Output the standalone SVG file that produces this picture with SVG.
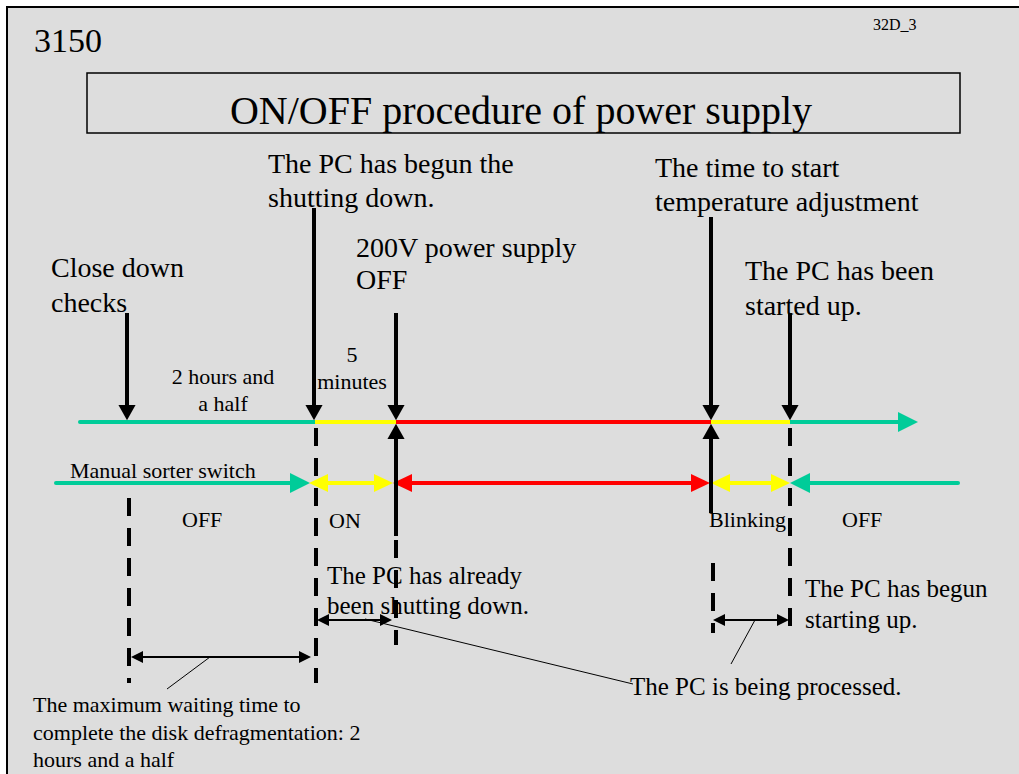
<svg xmlns="http://www.w3.org/2000/svg" width="1019" height="774" viewBox="0 0 1019 774">
<style>
text{font-family:"Liberation Serif","Times New Roman",serif;fill:#000}
.t28{font-size:28px}.t25{font-size:25px}.t22{font-size:22px}
.tl{stroke-width:4;fill:none}
.g{stroke:#00CC99}.y{stroke:#FFFF00}.r{stroke:#FF0000}
.v{stroke:#000;stroke-width:4;fill:none}
.d{stroke:#000;stroke-width:4;fill:none;stroke-dasharray:18 12}
.dim{stroke:#000;stroke-width:2;fill:none}
.ld{stroke:#000;stroke-width:1;fill:none}
</style>
<defs>
<marker id="ag" markerUnits="userSpaceOnUse" viewBox="0 0 20 20" markerWidth="20" markerHeight="20" refX="0" refY="10" orient="auto-start-reverse"><path d="M0,0L20,10L0,20z" fill="#00CC99"/></marker>
<marker id="ay" markerUnits="userSpaceOnUse" viewBox="0 0 20 20" markerWidth="20" markerHeight="20" refX="0" refY="10" orient="auto-start-reverse"><path d="M0,1L19,10L0,19z" fill="#FFFF00"/></marker>
<marker id="ar" markerUnits="userSpaceOnUse" viewBox="0 0 20 20" markerWidth="20" markerHeight="20" refX="0" refY="10" orient="auto-start-reverse"><path d="M0,1L19,10L0,19z" fill="#FF0000"/></marker>
<marker id="ab" markerUnits="userSpaceOnUse" viewBox="0 0 20 20" markerWidth="18" markerHeight="20" refX="0" refY="10" orient="auto-start-reverse"><path d="M0,0.5L17,10L0,19.5z" fill="#000"/></marker>
<marker id="ad" markerUnits="userSpaceOnUse" viewBox="0 0 12 12" markerWidth="12" markerHeight="12" refX="0" refY="6" orient="auto-start-reverse"><path d="M0,0L12,6L0,12z" fill="#000"/></marker>
</defs>
<rect x="0" y="0" width="1019" height="774" fill="#fff"/>
<rect x="7" y="7" width="1030" height="800" fill="#DDDDDD" stroke="#000" stroke-width="2"/>

<g id="header">
<text x="34" y="52" style="font-size:34px">3150</text>
<text x="873" y="30" style="font-size:16px">32D_3</text>
</g>
<g id="title">
<rect x="87" y="73" width="873" height="60" fill="none" stroke="#000" stroke-width="1.5"/>
<text x="521" y="124" text-anchor="middle" style="font-size:40px">ON/OFF procedure of power supply</text>
</g>

<g id="connectors">
<!-- top timeline -->
<line class="tl g" x1="80" y1="422" x2="315" y2="422" stroke-linecap="round"/>
<line class="tl y" x1="315" y1="422" x2="396" y2="422"/>
<line class="tl r" x1="396" y1="422" x2="711" y2="422"/>
<line class="tl y" x1="711" y1="422" x2="790" y2="422"/>
<line class="tl g" x1="790" y1="422" x2="898" y2="422" marker-end="url(#ag)"/>
<!-- switch timeline -->
<line class="tl g" x1="56" y1="483" x2="290" y2="483" stroke-linecap="round" marker-end="url(#ag)"/>
<line class="tl y" x1="328" y1="483" x2="374" y2="483" marker-start="url(#ay)" marker-end="url(#ay)"/>
<line class="tl r" x1="412" y1="483" x2="691" y2="483" marker-start="url(#ar)" marker-end="url(#ar)"/>
<line class="tl y" x1="730" y1="483" x2="771" y2="483" marker-start="url(#ay)" marker-end="url(#ay)"/>
<line class="tl g" x1="958" y1="483" x2="810" y2="483" stroke-linecap="round" marker-end="url(#ag)"/>
<!-- event arrows down -->
<line class="v" x1="127" y1="313" x2="127" y2="405" marker-end="url(#ab)"/>
<line class="v" x1="314" y1="208" x2="314" y2="405" marker-end="url(#ab)"/>
<line class="v" x1="396" y1="313" x2="396" y2="405" marker-end="url(#ab)"/>
<line class="v" x1="711" y1="217" x2="711" y2="405" marker-end="url(#ab)"/>
<line class="v" x1="790" y1="313" x2="790" y2="405" marker-end="url(#ab)"/>
<!-- event arrows up -->
<line class="v" x1="396" y1="536" x2="396" y2="439" marker-end="url(#ab)"/>
<line class="v" x1="711" y1="513" x2="711" y2="439" marker-end="url(#ab)"/>
<!-- dashed guides -->
<line class="d" x1="129" y1="498" x2="129" y2="683"/>
<line class="d" x1="316" y1="428" x2="316" y2="683"/>
<line class="d" x1="396" y1="540" x2="396" y2="645"/>
<line class="d" x1="713" y1="563" x2="713" y2="633"/>
<line class="d" x1="790" y1="428" x2="790" y2="635"/>
<!-- dimension arrows -->
<line class="dim" x1="143" y1="657" x2="299" y2="657" marker-start="url(#ad)" marker-end="url(#ad)"/>
<line class="dim" x1="329" y1="620" x2="380" y2="620" marker-start="url(#ad)" marker-end="url(#ad)"/>
<line class="dim" x1="725" y1="620" x2="777" y2="620" marker-start="url(#ad)" marker-end="url(#ad)"/>
<!-- leaders -->
<line class="ld" x1="210" y1="657" x2="167" y2="689"/>
<line class="ld" x1="365" y1="619" x2="633" y2="684"/>
<line class="ld" x1="755" y1="620" x2="731" y2="664"/>
</g>

<g id="close-down">
<text class="t28" x="51" y="277">Close down</text>
<text class="t28" x="51" y="312">checks</text>
</g>
<g id="pc-begun-shutdown">
<text class="t28" x="268" y="173">The PC has begun the</text>
<text class="t28" x="268" y="207">shutting down.</text>
</g>
<g id="power-off">
<text class="t28" x="356" y="257">200V power supply</text>
<text class="t28" x="356" y="289">OFF</text>
</g>
<g id="temp-adjust">
<text class="t28" x="655" y="177">The time to start</text>
<text class="t28" x="655" y="211">temperature adjustment</text>
</g>
<g id="pc-started">
<text class="t28" x="745" y="280">The PC has been</text>
<text class="t28" x="745" y="315">started up.</text>
</g>
<g id="two-hours">
<text class="t22" x="223" y="384" text-anchor="middle">2 hours and</text>
<text class="t22" x="223" y="411" text-anchor="middle">a half</text>
</g>
<g id="five-min">
<text class="t22" x="352" y="362" text-anchor="middle">5</text>
<text class="t22" x="352" y="389" text-anchor="middle">minutes</text>
</g>
<g id="switch-states">
<text class="t22" x="70" y="478">Manual sorter switch</text>
<text class="t22" x="182" y="527">OFF</text>
<text class="t22" x="329" y="528">ON</text>
<text class="t22" x="709" y="527">Blinking</text>
<text class="t22" x="842" y="527">OFF</text>
</g>
<g id="pc-already-shutdown">
<text class="t25" x="327" y="584">The PC has already</text>
<text class="t25" x="327" y="614">been shutting down.</text>
</g>
<g id="pc-begun-startup">
<text class="t25" x="805" y="597">The PC has begun</text>
<text class="t25" x="805" y="628">starting up.</text>
</g>
<g id="pc-processed">
<text class="t25" x="630" y="695">The PC is being processed.</text>
</g>
<g id="max-wait">
<text class="t22" x="33" y="712">The maximum waiting time to</text>
<text class="t22" x="33" y="740">complete the disk defragmentation: 2</text>
<text class="t22" x="33" y="767">hours and a half</text>
</g>
</svg>
